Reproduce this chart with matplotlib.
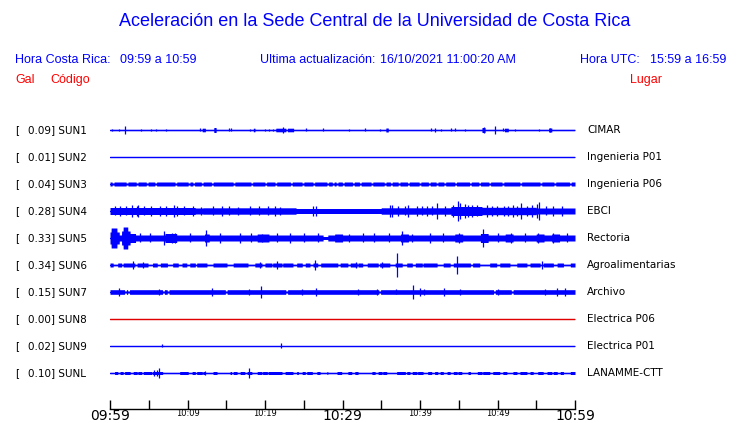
import numpy as np
import matplotlib
matplotlib.use("Agg")
import matplotlib.pyplot as plt

# ---------------- data ----------------
stations = ["SUN1", "SUN2", "SUN3", "SUN4", "SUN5", "SUN6", "SUN7", "SUN8", "SUN9", "SUNL"]
peaks = ["0.09", "0.01", "0.04", "0.28", "0.33", "0.34", "0.15", "0.00", "0.02", "0.10"]
places = ["CIMAR", "Ingenieria P01", "Ingenieria P06", "EBCI", "Rectoria",
          "Agroalimentarias", "Archivo", "Electrica P06", "Electrica P01", "LANAMME-CTT"]
trace_colors = ["#0000ff"] * 7 + ["#e00000"] + ["#0000ff"] * 2

tick_minutes = list(range(0, 61, 5))
tick_labels = ["09:59", "10:09", "10:19", "10:29", "10:39", "10:49", "10:59"]
label_minutes = [0, 10, 20, 30, 40, 50, 60]

# background amplitude of each trace (relative units, minutes on x)
base_amp = [0.7, 0.6, 2.0, 2.5, 3.0, 0.8, 2.3, 0.6, 0.6, 0.7]

# (start minute, end minute, amplitude) segments of stronger shaking
SUN1_bands = [(11.9, 12.3, 1.8), (13.4, 13.7, 2.5), (18.5, 18.7, 1.8), (21.4, 22.7, 1.8),
              (22.9, 23.7, 1.8), (35.6, 35.9, 2.0), (48.0, 48.4, 2.5), (50.9, 51.4, 1.8),
              (56.6, 57.0, 2.0)]
SUN4_bands = [(0, 11, 3.5), (11, 12, 3), (12, 24, 3.2), (35, 44, 3.2), (44, 48, 4.5),
              (48, 55, 3.7), (55, 60, 3)]
SUN5_bands = [(0, 0.15, 6), (0.15, 0.9, 10), (0.9, 1.2, 6), (1.5, 1.7, 7), (1.7, 2.3, 11),
              (2.3, 2.6, 7), (2.6, 3.3, 4.5), (7.1, 8.6, 4.5), (12.2, 12.8, 4),
              (19.0, 20.5, 4), (27.5, 28.1, 1.5), (29.0, 30.0, 4), (37.5, 38.5, 4),
              (44.5, 45.5, 4), (47.8, 48.8, 4.5), (51.0, 52.0, 4), (55.0, 56.0, 4),
              (57.0, 58.0, 4)]
SUN6_bands = [(a, b, 2.0) for a, b in [
    (0, 0.4), (1.0, 1.5), (1.7, 3.2), (3.5, 4.9), (5.5, 6.1), (6.5, 7.4), (8.1, 8.8),
    (9.3, 9.9), (10.3, 11.0), (11.2, 12.5), (13.3, 15.1), (15.9, 17.8), (18.7, 19.6),
    (20.0, 20.9), (21.0, 22.2), (22.3, 23.6), (24.1, 24.8), (25.2, 25.8), (26.2, 26.8),
    (27.2, 29.4), (29.7, 30.7), (31.0, 31.9), (32.0, 32.6), (33.2, 34.6), (34.8, 36.1),
    (36.8, 37.7), (38.3, 39.0), (39.4, 40.3), (40.4, 42.2), (43.0, 43.9), (44.3, 46.5),
    (46.8, 47.7), (49.0, 49.9), (50.3, 51.6), (52.5, 53.8), (54.2, 55.5), (55.9, 57.2),
    (57.7, 58.5), (59.4, 60.0)]]
SUNL_bands = [(a, b, 1.5) for a, b in [
    (0.6, 1.0), (1.3, 1.7), (1.9, 2.6), (3.0, 3.5), (3.6, 4.1), (4.3, 5.4), (5.5, 6.8),
    (9.0, 10.1), (10.6, 11.0), (11.2, 11.9), (12.0, 12.3), (13.3, 13.8), (15.5, 15.7),
    (15.9, 16.4), (16.8, 17.4), (17.7, 18.3), (19.0, 19.6), (19.7, 20.3), (20.4, 22.2),
    (22.6, 23.6), (24.1, 24.3), (24.8, 25.2), (25.4, 26.1), (26.7, 27.1), (28.0, 28.1),
    (29.3, 29.9), (30.7, 31.2), (31.6, 32.0), (33.8, 34.2), (34.6, 35.1), (35.2, 35.7),
    (37.0, 38.1), (38.3, 38.7), (39.0, 39.6), (39.7, 40.4), (41.0, 41.5), (41.9, 42.3),
    (42.6, 43.0), (43.5, 43.9), (44.3, 44.8), (44.9, 45.4), (46.2, 46.5), (47.4, 48.0),
    (48.1, 49.0), (49.4, 50.3), (50.7, 51.2), (52.0, 52.5), (52.9, 53.8), (54.2, 54.6),
    (55.2, 55.9), (56.4, 57.0), (57.2, 57.7), (58.1, 58.5), (59.4, 60.0)]]
bands = [SUN1_bands, [], [], SUN4_bands, SUN5_bands, SUN6_bands, [], [], [], SUNL_bands]

# quieter moments (minute) inside the continuous bands
SUN3_gaps = [0.4, 2.2, 3.5, 4.8, 5.9, 8.5, 10.2, 10.8, 11.9, 13.2, 16.0, 18.3, 20.1, 21.4,
             23.4, 24.9, 26.3, 28.1, 28.8, 29.3, 30.1, 31.4, 32.3, 33.8, 35.5, 36.3, 37.3,
             38.5, 40.0, 41.2, 42.2, 43.2, 44.6, 46.5, 47.7, 49.0, 50.7, 53.0, 55.6, 57.4, 59.4]
SUN7_gaps = [2.0, 2.4, 6.9, 7.5, 15.0, 22.8, 34.8, 49.6, 51.9]
gaps = [[], [], SUN3_gaps, [], [], [], SUN7_gaps, [], [], []]
gap_amp = [0.7, 0.6, 1.0, 1.5, 1.5, 0.8, 1.0, 0.6, 0.6, 0.7]

# (minute, amplitude) individual peaks
SUN1_spikes = [(0.3, 1), (1.2, 1), (1.9, 4), (4.0, 1.2), (5.3, 1), (5.9, 1), (7.2, 1), (11.6, 1.5),
               (15.4, 1.5), (15.6, 1.5), (18.1, 1), (20.0, 1), (20.5, 1), (21.0, 1), (22.3, 3),
               (25.3, 1.5), (27.5, 1.5), (30.8, 1), (32.9, 1.5), (34.8, 1), (41.4, 1.5), (41.9, 2),
               (42.7, 1), (44.0, 1.5), (44.5, 1.5), (45.8, 1), (48.3, 3), (49.7, 4), (50.7, 1.5),
               (52.3, 1), (55.4, 1), (56.8, 2)]
SUN4_spikes = [(0.6, 4.5), (1.3, 5), (2.0, 4.5), (2.8, 6), (3.5, 5), (3.6, 6), (4.4, 4.5),
               (5.3, 5), (6.5, 5), (7.2, 5), (8.3, 6), (8.6, 5), (9.5, 4.5), (10.7, 5),
               (11.7, 4), (13.3, 4.5), (14.5, 5), (15.4, 4.5), (16.5, 4), (18.0, 4.5),
               (19.2, 4.5), (20.4, 4.5), (21.3, 5), (21.9, 4), (26.2, 5), (26.6, 5),
               (36.1, 6), (36.4, 6), (37.2, 5), (38.0, 4.5), (38.5, 6), (39.6, 5), (40.3, 4.5),
               (40.9, 5), (41.6, 4.5), (42.2, 8), (43.2, 5), (44.3, 6), (44.9, 10), (45.2, 8),
               (45.8, 7), (46.2, 6), (46.7, 6), (47.4, 5.5), (48.6, 6), (49.3, 5), (49.9, 5),
               (50.8, 5), (51.4, 5), (52.0, 6), (52.5, 5), (53.0, 8), (53.8, 5), (54.5, 6),
               (55.1, 7), (55.4, 9), (56.2, 4.5), (57.2, 5), (58.3, 5)]
SUN5_spikes = [(3.9, 4.5), (5.2, 4.5), (7.0, 7), (8.0, 5), (8.4, 5), (10.3, 4.5), (12.4, 8),
               (14.2, 5), (16.8, 5), (18.2, 4.5), (19.6, 4), (21.5, 4.5), (23.2, 5), (25.0, 4.5),
               (26.8, 4.5), (30.8, 4), (32.6, 4.5), (34.0, 4.5), (36.0, 4.5), (37.7, 7),
               (39.0, 4), (41.3, 5), (43.0, 4.5), (45.0, 5), (48.1, 9), (50.0, 4.5),
               (51.7, 5), (53.5, 4.5), (55.2, 5), (57.2, 5), (59.0, 4.5)]
SUN6_spikes = [(3.0, 4), (4.3, 3), (19.4, 3), (21.5, 4), (26.5, 5), (31.7, 3), (35.1, 3),
               (37.0, 12), (44.8, 9), (55.7, 4)]
SUN7_spikes = [(1.2, 4), (6.3, 3), (13.2, 4), (17.9, 3), (19.5, 6), (24.8, 3), (26.6, 4),
               (32.0, 3), (34.5, 3), (36.9, 2.5), (39.1, 7), (40.0, 4), (40.5, 3), (43.1, 4),
               (45.2, 3), (50.1, 3), (56.1, 3), (57.7, 4), (58.7, 4)]
SUN9_spikes = [(6.7, 1.5), (22.1, 2.5)]
SUNL_spikes = [(5.7, 3), (6.0, 3), (6.3, 5), (12.2, 2), (17.9, 5)]
spikes = [SUN1_spikes, [], [], SUN4_spikes, SUN5_spikes, SUN6_spikes, SUN7_spikes, [],
          SUN9_spikes, SUNL_spikes]

# ---------------- drawing ----------------
W, H = 740, 423
BLUE = "#0000ff"
RED = "#ff0000"
fig = plt.figure(figsize=(W / 100, H / 100), dpi=100)
ax = fig.add_axes([110 / W, 0, 465 / W, 1])
ax.set_xlim(0, 60)
ax.set_ylim(H, 0)
ax.axis("off")


def ftext(x, y, s, **kw):
    fig.text(x / W, 1 - y / H, s, **kw)


y0s = [130 + 27 * i for i in range(len(stations))]
t = np.linspace(0, 60, 4801)
for i, y0 in enumerate(y0s):
    env = np.full_like(t, base_amp[i])
    for a, b, amp in bands[i]:
        env[(t >= a) & (t <= b)] = amp
    for c in gaps[i]:
        env[np.abs(t - c) < 0.12] = gap_amp[i]
    col = trace_colors[i]
    ax.fill_between(t, y0 - env, y0 + env, color=col, lw=0)
    ax.plot([0, 60], [y0, y0], color=col, lw=0.9)
    if spikes[i]:
        ts = np.array([s[0] for s in spikes[i]])
        am = np.array([s[1] for s in spikes[i]])
        ax.vlines(ts, y0 - am, y0 + am, color=col, lw=0.9)

    ftext(15, y0, "[", fontsize=7.5, family="DejaVu Sans", va="center", ha="left")
    ftext(28, y0, f"{peaks[i]}] {stations[i]}", fontsize=7.5, family="DejaVu Sans",
          va="center", ha="left")
    ftext(587, y0, places[i], fontsize=7.5, family="DejaVu Sans", va="center", ha="left")

# time axis
ax.plot([0, 60], [409, 409], color="black", lw=1, clip_on=False)
ax.vlines(tick_minutes, 400.5, 409, color="black", lw=1, clip_on=False)
for m, lab in zip(label_minutes, tick_labels):
    big = m in (0, 30, 60)
    ax.text(m, 416 if big else 414, lab, fontsize=10 if big else 6, family="DejaVu Sans",
            ha="center", va="center", clip_on=False)

# header
hk = dict(fontsize=9, family="Liberation Sans", color=BLUE, ha="left", va="center")
rk = dict(fontsize=9, family="Liberation Sans", color=RED, ha="left", va="center")
ftext(375, 22, "Aceleración en la Sede Central de la Universidad de Costa Rica",
      fontsize=13, family="Liberation Sans", color=BLUE, ha="center", va="center")
ftext(15, 60, "Hora Costa Rica:", **hk)
ftext(120, 60, "09:59 a 10:59", **hk)
ftext(260, 60, "Ultima actualización:", **hk)
ftext(380, 60, "16/10/2021 11:00:20 AM", **hk)
ftext(580, 60, "Hora UTC:", **hk)
ftext(650, 60, "15:59 a 16:59", **hk)
ftext(15, 80, "Gal", **rk)
ftext(50, 80, "Código", **rk)
ftext(630, 80, "Lugar", **rk)

fig.savefig("out.png", dpi=100, facecolor="white")
